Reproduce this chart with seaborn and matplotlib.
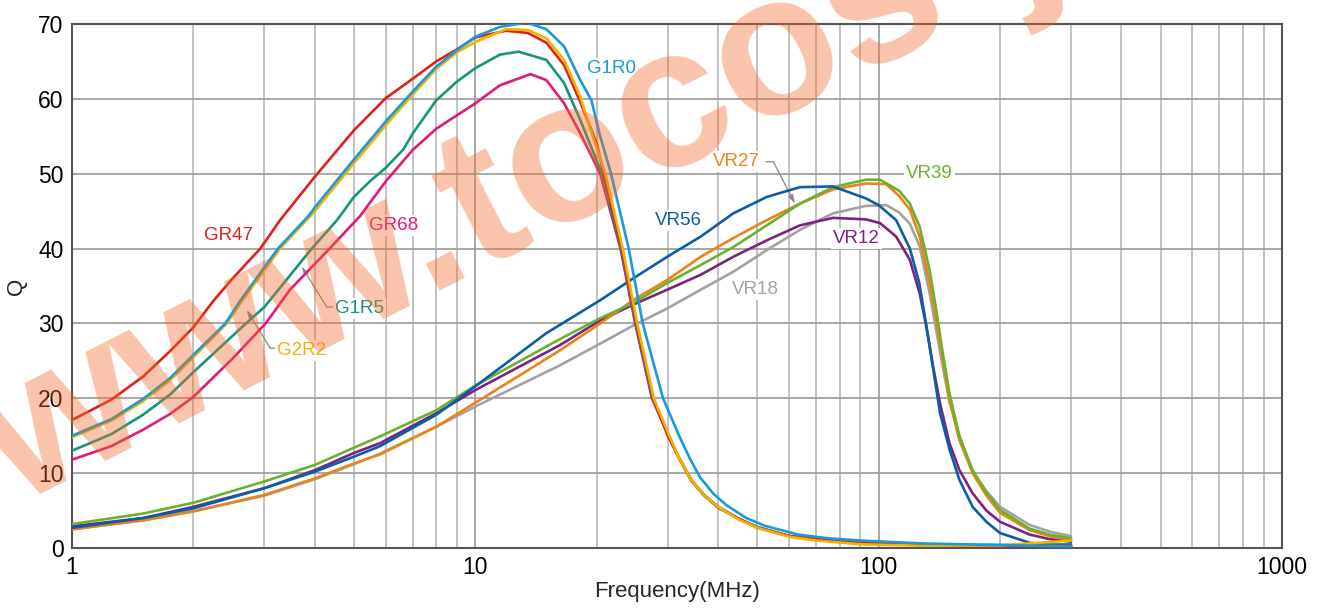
import numpy as np
import pandas as pd
import matplotlib
matplotlib.use("Agg")
import matplotlib.pyplot as plt
import seaborn as sns
from matplotlib.ticker import FixedLocator, NullFormatter

# ---- data (frequency in MHz, Q) ----
GR47_F = [1, 1.25, 1.5, 1.75, 2, 2.24, 2.5, 2.93, 3.28, 4, 5, 6, 7, 8, 9, 10, 11.9, 13.5, 15, 16.6, 18.2,
          20, 20.8, 23.1, 25.1, 27.6, 30, 32, 34.3, 37, 40, 45, 50, 60, 70, 90, 130, 200, 300]
GR47_Q = [17.1, 19.8, 22.9, 26.3, 29.5, 33, 36, 40, 43.8, 49.6, 55.8, 60.1, 62.7, 65.0, 66.6, 68.2, 69.1, 68.8,
          67.5, 64.5, 59.6, 54, 50, 40, 30, 20, 15, 12, 9, 7.0, 5.4, 3.9, 2.7, 1.6, 1.2, 0.7, 0.4, 0.3, 0.3]

GR68_F = [1, 1.25, 1.5, 1.75, 2, 2.5, 3.02, 3.47, 4.35, 5.17, 6, 7, 8, 9, 10, 11.5, 13.7, 15, 16.6, 18.2,
          20.4, 22.9, 24.9, 27.4, 30, 32, 34.3, 37, 40, 45, 50, 60, 70, 90, 130, 200, 300]
GR68_Q = [11.8, 13.6, 15.8, 17.9, 20.2, 25.3, 30, 34.5, 40, 44.3, 49.0, 53.2, 56.0, 57.8, 59.4, 61.8, 63.3,
          62.5, 59.4, 55.4, 50, 40, 30, 20, 15.2, 12, 9.1, 7.0, 5.5, 3.9, 2.8, 1.6, 1.2, 0.7, 0.4, 0.3, 0.3]

G1R5_F = [1, 1.25, 1.5, 1.75, 2, 2.7, 3, 3.93, 4.54, 5, 5.48, 6, 6.62, 7, 8, 9, 10, 11.5, 12.8, 15, 16.6,
          18.2, 20.6, 23.0, 25.0, 27.5, 30, 32, 34.3, 37, 40, 45, 50, 60, 70, 90, 130, 200, 300]
G1R5_Q = [13.0, 15.2, 17.8, 20.5, 23.5, 30, 32.2, 40, 43.8, 46.9, 49.0, 50.8, 53.2, 55.4, 59.8, 62.3, 64.1,
          65.9, 66.3, 65.2, 62.1, 57.2, 50, 40, 30, 20, 15.2, 12, 9.1, 7.0, 5.5, 3.9, 2.8, 1.6, 1.2, 0.7,
          0.5, 0.4, 0.5]

G2R2_F = [1, 1.25, 1.5, 1.75, 2, 2.42, 2.64, 3.28, 4, 5, 6, 7, 8, 9, 10, 11.9, 13.5, 15, 16.6, 18.2, 19.2,
          21.0, 23.2, 25.2, 27.7, 30.1, 32, 34.3, 37, 40, 45, 50, 60, 70, 90, 130, 200, 300]
G2R2_Q = [14.8, 17.0, 19.6, 22.4, 25.5, 30, 33, 40, 45.0, 51.4, 56.5, 60.6, 64.0, 66.2, 67.6, 69.3, 69.2,
          68.1, 65.2, 60.3, 56.3, 50, 40, 30, 20, 15.3, 12, 9.1, 7.0, 5.5, 3.8, 2.7, 1.5, 1.0, 0.5, 0.3,
          0.35, 1.0]

G1R0_F = [1, 1.25, 1.5, 1.75, 2, 2.4, 2.61, 3.24, 3.85, 4, 5, 6, 7, 8, 9, 10, 11.5, 13.4, 15, 16.6, 18.2,
          19.4, 20.3, 21.7, 24.0, 26.0, 29.2, 32, 34, 36, 39, 42, 47, 52, 63, 75, 90, 130, 200, 300]
G1R0_Q = [15.0, 17.2, 19.9, 22.7, 25.8, 30, 33, 40, 44.3, 45.5, 51.9, 57.0, 61.0, 64.3, 66.5, 68.3, 69.6,
          70.2, 69.3, 67.0, 62.5, 59.8, 55.4, 50, 40, 30, 20, 15, 12, 9.5, 7.2, 5.7, 4.0, 3.0, 1.8, 1.3,
          1.0, 0.6, 0.4, 0.2]

VR56_F = [1, 1.5, 2, 3, 4, 5, 5.8, 8, 10, 15, 20.4, 24.6, 29.9, 36.2, 43.6, 52.8, 63.8, 77, 93, 100,
          110.5, 119.5, 126, 131, 136, 142, 150, 158.6, 171, 185, 200, 236.5, 265, 300]
VR56_Q = [2.7, 4.0, 5.3, 8.0, 10.2, 12.2, 13.6, 17.8, 21.6, 28.7, 33.1, 36.0, 38.9, 41.6, 44.7, 46.9, 48.2,
          48.3, 46.7, 45.8, 43.8, 40.0, 35.5, 30.0, 24.5, 18.0, 13.1, 9.1, 5.5, 3.5, 2.0, 0.7, 0.4, 0.2]

VR27_F = [1, 1.5, 2, 3, 4, 5, 5.8, 8, 10, 16.2, 20.4, 24.6, 29.9, 36.2, 43.6, 52.8, 63.8, 77, 93, 104.5,
          112.5, 119.5, 126.4, 133.8, 138.9, 144.2, 149.8, 158.6, 171, 185, 200, 236.5, 265, 300]
VR27_Q = [2.5, 3.7, 4.9, 7.1, 9.3, 11.3, 12.5, 16.2, 19.4, 26.4, 30.0, 33.1, 35.8, 38.9, 41.4, 43.8, 46.0,
          47.9, 48.7, 48.6, 47.0, 45.2, 41.6, 35.4, 30.5, 25.1, 19.8, 14.4, 10.0, 7.0, 4.7, 2.4, 1.6, 1.1]

VR39_F = [1, 1.5, 2, 3, 4, 5, 5.8, 8, 10, 16.2, 20.4, 24.6, 29.9, 36.2, 43.6, 52.8, 63.8, 77, 93, 100.8,
          112.5, 119.5, 126.4, 133.8, 138.9, 144.2, 149.8, 158.6, 171, 185, 200, 236.5, 265, 300]
VR39_Q = [3.2, 4.6, 6.05, 8.9, 11.1, 13.4, 14.9, 18.4, 21.7, 27.9, 30.7, 32.7, 35.4, 37.8, 40.2, 43.1, 46.0,
          48.2, 49.2, 49.2, 47.7, 46.0, 42.9, 37.1, 31.8, 26.0, 20.7, 14.9, 10.4, 7.4, 5.1, 2.6, 1.8, 1.3]

VR18_F = [1, 1.5, 2, 3, 4, 5, 5.8, 8, 10, 16.2, 20.4, 24.6, 29.9, 36.2, 43.6, 52.8, 63.8, 77, 93, 104.5,
          112.5, 119.5, 126.4, 133.8, 138.9, 144.2, 149.8, 158.6, 171, 185, 200, 236.5, 265, 300]
VR18_Q = [2.5, 3.7, 4.9, 7.0, 9.2, 11.2, 12.6, 16.2, 18.9, 24.4, 27.3, 29.7, 32.0, 34.5, 36.9, 39.8, 42.5,
          44.7, 45.7, 45.8, 44.8, 43.3, 40.3, 34.0, 29.1, 24.2, 19.5, 15.0, 10.2, 7.6, 5.5, 3.1, 2.2, 1.6]

VR12_F = [1, 1.5, 2, 3, 4, 5, 5.8, 8, 10, 16.2, 20.4, 24.6, 29.9, 36.2, 43.6, 52.8, 63.8, 77, 93, 100.8,
          110.5, 119.5, 126.4, 131.3, 136.5, 142, 149.8, 158.6, 171, 185, 200, 236.5, 265, 300]
VR12_Q = [2.9, 4.0, 5.5, 8.0, 10.4, 12.7, 14.0, 18.0, 21.1, 27.1, 30.4, 32.5, 34.5, 36.5, 38.9, 41.1, 43.1,
          44.1, 43.9, 43.4, 41.6, 38.5, 34.0, 29.6, 24.2, 19.3, 14.0, 10.4, 7.3, 5.0, 3.5, 1.8, 1.2, 0.85]

SERIES = {
    "VR18": (VR18_F, VR18_Q), "VR12": (VR12_F, VR12_Q), "VR27": (VR27_F, VR27_Q),
    "VR39": (VR39_F, VR39_Q), "VR56": (VR56_F, VR56_Q),
    "GR68": (GR68_F, GR68_Q), "G1R5": (G1R5_F, G1R5_Q), "GR47": (GR47_F, GR47_Q),
    "G2R2": (G2R2_F, G2R2_Q), "G1R0": (G1R0_F, G1R0_Q),
}

COLORS = {
    "GR47": "#e0201b", "GR68": "#e2197c", "G1R5": "#17957a", "G2R2": "#f2b200",
    "G1R0": "#1a9ad8", "VR56": "#0a5ea8", "VR27": "#ec8317", "VR39": "#6cb12e",
    "VR18": "#a3a3a3", "VR12": "#7b2283",
}

# label positions (left edge freq, Q centre)
LABELS = {
    "GR47": (2.12, 41.8), "GR68": (5.45, 43.1), "G1R5": (4.49, 32.0), "G2R2": (3.22, 26.4),
    "G1R0": (18.9, 64.1), "VR56": (27.9, 43.8), "VR27": (38.8, 51.6), "VR39": (117, 50.0),
    "VR12": (77.1, 41.4), "VR18": (43.2, 34.5),
}
# leader lines: label -> (arrow tip, bend point, end at label)
LEADERS = {
    "G1R5": ((3.71, 37.6), (4.28, 32.2), (4.43, 32.2)),
    "G2R2": ((2.71, 31.8), (3.1, 26.7), (3.18, 26.7)),
    "VR27": ((62.0, 46.0), (54.8, 51.6), (52.5, 51.6)),
}

XTICKS = [1, 10, 100, 1000]
XTICK_LABELS = ["1", "10", "100", "1000"]
YTICKS = [0, 10, 20, 30, 40, 50, 60, 70]

rows = []
for name, (f, q) in SERIES.items():
    for fi, qi in zip(f, q):
        rows.append((name, fi, qi))
df = pd.DataFrame(rows, columns=["series", "freq", "Q"])

sns.set_style("white")
plt.rcParams["font.family"] = ["Liberation Sans", "DejaVu Sans"]

fig = plt.figure(figsize=(13.17, 6.10), dpi=100)
ax = fig.add_axes([0.0547, 0.1016, 0.9187, 0.8591])

ax.set_xscale("log")
sns.lineplot(data=df, x="freq", y="Q", hue="series", palette=COLORS, estimator=None,
             sort=False, linewidth=1.9, legend=False, ax=ax, zorder=3)

ax.set_xlim(1, 1000)
ax.set_ylim(0, 70)
ax.set_xticks(XTICKS)
ax.set_xticklabels(XTICK_LABELS)
ax.xaxis.set_minor_locator(FixedLocator([m * d for d in (1, 10, 100) for m in range(2, 10)]))
ax.xaxis.set_minor_formatter(NullFormatter())
ax.set_yticks(YTICKS)
ax.tick_params(axis="both", which="both", length=0, labelsize=16.5, colors="black")
ax.tick_params(axis="x", pad=6)
ax.tick_params(axis="y", pad=6)

ax.grid(True, which="major", axis="both", color="#999999", linewidth=1.2, zorder=0)
ax.grid(True, which="minor", axis="x", color="#c2c2c2", linewidth=1.4, zorder=0)
ax.set_axisbelow(True)
for side in ["left", "bottom", "top", "right"]:
    ax.spines[side].set_color("#555555")
    ax.spines[side].set_linewidth(1.5)

ax.set_xlabel("Frequency(MHz)", fontsize=16, labelpad=1)
ax.set_ylabel("Q", fontsize=16)
ax.yaxis.set_label_coords(-0.037, 0.5)

for name, (fx, qy) in LABELS.items():
    ax.text(fx, qy, name, color=COLORS[name], fontsize=13.5, ha="left", va="center", zorder=2,
            bbox=dict(facecolor="white", edgecolor="none", pad=1.5))

for name, (tip, bend, end) in LEADERS.items():
    ax.annotate("", xy=tip, xytext=bend,
                arrowprops=dict(arrowstyle="-|>,head_length=0.5,head_width=0.15", color="#888888",
                                lw=0.9, shrinkA=0, shrinkB=0), zorder=2)
    ax.annotate("", xy=bend, xytext=end,
                arrowprops=dict(arrowstyle="-", color="#888888", lw=0.9, shrinkA=0, shrinkB=0), zorder=2)

# watermark
fig.text(17 / 1317, 1 - 507 / 610, "www.tocos-j.co.jp", rotation=27, rotation_mode="anchor",
         ha="left", va="baseline", fontsize=145, fontweight="bold", color="#f26a2b", alpha=0.4, zorder=10)

fig.savefig("out.png", dpi=100)
